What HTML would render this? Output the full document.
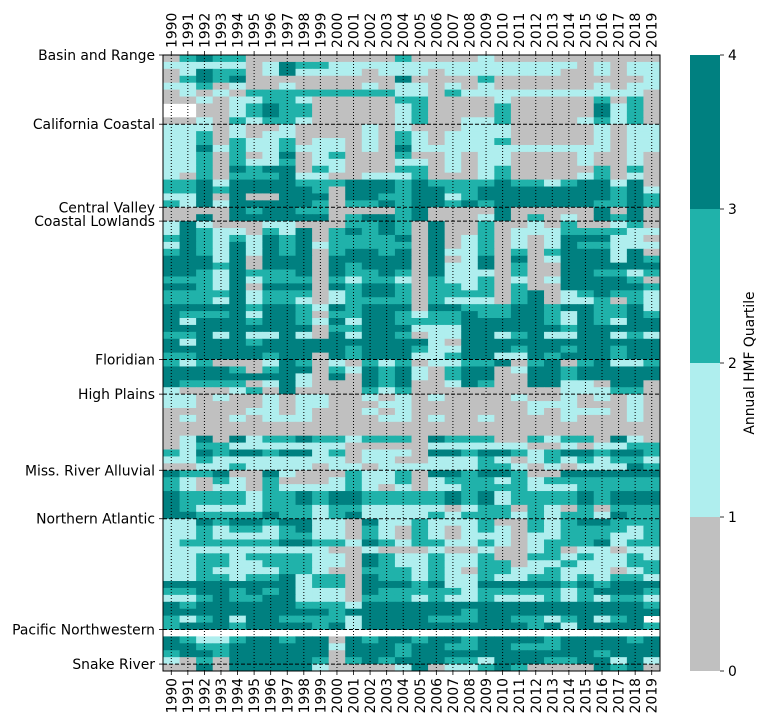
<!DOCTYPE html>
<html><head><meta charset="utf-8">
<style>
html,body{margin:0;padding:0;background:#fff;}
svg{display:block;font-family:"DejaVu Sans","Liberation Sans",sans-serif;}
</style></head>
<body>
<svg id="chart" width="768" height="726" viewBox="0 0 768 726" xmlns="http://www.w3.org/2000/svg"></svg>
<script>
const years = [1990,1991,1992,1993,1994,1995,1996,1997,1998,1999,2000,2001,2002,2003,2004,2005,2006,2007,2008,2009,2010,2011,2012,2013,2014,2015,2016,2017,2018,2019];
const regionLabels = ["Basin and Range","California Coastal","Central Valley","Coastal Lowlands","Floridian","High Plains","Miss. River Alluvial","Northern Atlantic","Pacific Northwestern","Snake River"];
const regionStartRows = [0,10,22,24,44,49,60,67,83,88];
const colorbarTicks = [0,1,2,3,4];
const N = null;
// quartile bin (0..3) per site-row, per year; null = no data
const rowsBasin = [
[0,2,3,2,2,0,0,0,0,0,0,0,0,0,2,0,0,0,0,1,0,0,0,0,0,0,0,0,0,0],
[1,1,1,1,1,0,1,3,2,2,1,1,1,1,1,1,1,1,1,1,1,1,1,1,1,0,1,0,1,1],
[0,1,3,2,2,0,1,3,1,1,1,1,0,1,1,1,0,1,1,1,1,1,1,1,0,0,1,0,1,1],
[0,2,3,2,3,0,0,0,0,0,0,0,0,0,3,0,0,0,0,2,0,0,0,0,0,0,0,0,0,1],
[1,1,2,0,1,0,0,1,0,0,0,0,1,0,1,1,0,1,0,1,0,0,0,0,0,0,1,0,1,1],
[0,1,0,1,0,2,2,2,2,2,2,2,2,2,1,1,0,2,1,1,1,1,1,1,1,1,1,1,1,0],
[0,0,1,0,1,1,2,2,1,0,0,0,0,0,2,2,0,0,0,0,1,0,0,0,0,0,2,0,2,0],
[N,N,0,0,1,2,3,2,2,0,0,0,0,0,1,2,0,0,0,0,2,0,0,0,0,0,3,1,2,0],
[N,N,0,0,1,2,3,2,2,0,0,0,0,0,1,2,0,0,0,0,2,0,0,0,0,0,3,1,2,0],
[0,0,1,0,2,1,2,2,1,0,0,0,0,0,1,2,0,0,1,1,2,0,0,0,0,1,2,1,2,0]];
const rowsCalifornia = [
[1,1,1,0,1,0,0,1,0,0,0,0,1,0,1,0,0,0,1,1,1,0,0,0,0,0,1,0,1,1],
[1,1,2,0,1,0,1,1,0,0,0,0,1,0,2,1,0,1,1,1,1,0,0,0,0,0,1,0,1,1],
[1,1,2,0,2,1,1,2,0,1,1,0,1,0,2,1,0,1,1,1,2,0,0,0,0,0,1,0,1,1],
[1,1,3,1,2,1,1,2,1,1,1,0,1,0,3,1,1,1,1,1,1,1,1,1,1,1,1,0,1,1],
[1,1,2,0,2,0,1,3,0,1,2,0,0,0,2,0,0,1,0,1,1,0,0,0,0,1,0,0,1,0],
[1,1,2,0,2,1,1,2,0,1,1,0,0,0,1,1,0,1,0,1,1,0,0,0,0,1,0,0,1,0],
[1,1,2,0,3,2,3,3,0,2,1,0,0,0,2,2,0,1,0,1,2,0,0,0,0,0,2,0,2,0],
[1,0,2,0,2,2,2,3,1,1,0,0,1,1,1,2,0,0,0,1,2,0,0,0,0,1,2,0,1,0],
[2,2,3,1,3,3,3,3,2,2,2,3,3,3,2,3,2,2,2,2,3,2,2,1,2,3,3,1,3,0],
[2,2,3,2,3,3,3,3,3,2,0,3,3,3,2,3,3,2,2,3,3,3,3,3,3,3,3,2,3,1],
[1,1,3,0,3,0,0,3,3,3,0,3,3,2,2,3,3,1,2,3,3,3,3,3,3,3,3,2,3,2],
[2,1,3,1,3,3,3,3,3,2,0,2,2,3,2,3,3,2,3,2,3,3,3,3,3,3,2,2,3,2]];
const rowsCentralValley = [
[0,0,0,0,3,2,3,3,2,2,0,0,0,0,2,3,0,0,0,0,3,0,0,0,0,0,3,0,3,0],
[0,0,3,0,3,3,3,3,3,3,0,2,3,3,2,3,0,0,0,1,3,0,2,0,1,0,3,2,3,0]];
const rowsCoastal = [
[1,3,1,0,0,0,1,1,0,0,0,2,2,3,2,0,3,0,0,2,0,0,1,0,2,0,0,1,2,0],
[1,3,2,1,1,0,2,1,3,0,2,3,2,3,2,0,3,0,0,2,0,1,1,1,2,2,2,2,1,1],
[2,3,2,1,2,1,3,2,3,0,2,2,2,2,3,0,3,0,1,2,0,1,0,1,3,3,3,1,1,0],
[1,3,2,1,3,1,3,2,3,1,2,2,2,2,2,0,3,0,1,2,0,1,0,1,3,2,2,1,1,1],
[2,3,2,1,3,1,3,2,3,0,2,3,3,2,3,0,3,1,1,2,0,2,0,2,3,3,3,1,3,0],
[3,3,3,1,3,0,3,3,3,0,3,3,3,3,3,0,3,0,1,3,0,3,0,1,3,3,3,1,3,2],
[3,3,3,2,3,0,3,3,3,0,3,2,3,3,3,0,3,1,1,3,0,2,0,0,3,3,3,3,3,3],
[3,3,2,1,3,2,2,2,3,0,3,2,2,3,2,0,3,1,1,1,0,2,0,0,3,3,2,2,1,2],
[2,2,2,1,3,1,2,2,2,0,2,1,2,2,1,0,2,1,1,2,0,1,0,1,3,3,3,3,2,0],
[3,3,2,1,3,0,3,3,3,0,3,2,3,3,2,0,2,2,1,2,0,2,0,0,3,3,3,3,3,2],
[2,2,2,2,3,1,2,2,2,0,1,2,3,3,2,0,2,2,2,2,0,2,3,0,1,2,3,2,2,1],
[2,2,2,1,3,1,2,2,1,0,1,2,2,2,2,0,2,1,1,1,0,2,3,0,1,1,2,0,2,1],
[3,3,3,3,3,2,3,3,2,1,3,2,3,3,3,0,3,3,2,2,2,3,3,2,3,3,2,2,3,1],
[3,2,2,2,3,1,3,3,2,0,2,2,3,3,2,1,2,2,3,2,2,3,3,2,1,3,2,2,3,2],
[3,1,3,3,3,2,3,3,2,1,3,1,3,3,2,2,2,2,3,3,3,3,3,2,1,3,2,1,3,3],
[3,3,3,3,3,3,3,3,3,0,2,2,3,3,3,1,1,1,3,3,3,3,3,3,2,3,3,3,3,3],
[2,2,3,1,3,1,1,3,1,0,3,1,3,3,2,0,1,1,3,3,1,2,3,1,1,3,3,1,2,1],
[3,1,3,3,3,2,3,3,3,3,3,3,3,3,3,3,1,0,3,3,3,3,3,3,3,3,3,3,3,3],
[3,3,3,3,3,3,3,3,3,3,3,2,3,3,3,2,1,1,3,3,3,2,3,3,2,3,3,2,3,3],
[2,2,3,3,3,3,2,3,3,0,3,2,3,3,3,1,1,2,3,3,1,1,3,2,3,3,3,2,3,3]];
const rowsFloridian = [
[2,1,2,0,0,0,1,3,2,0,1,0,2,1,2,0,1,1,2,2,3,0,2,3,0,2,3,1,1,2],
[3,3,3,3,2,0,2,3,3,0,2,1,3,2,3,1,0,2,3,3,0,1,3,3,2,3,3,3,3,3],
[3,3,3,3,3,3,3,3,1,0,3,0,3,2,3,1,0,2,3,3,0,0,3,3,2,3,3,3,3,3],
[3,2,2,2,2,0,1,3,1,0,0,0,3,2,3,0,0,1,3,2,0,0,3,3,1,1,0,3,3,0],
[1,0,0,0,1,2,0,3,0,0,0,0,2,1,2,0,0,0,0,0,0,0,0,0,1,1,1,2,2,0]];
const rowsHighPlains = [
[1,1,0,1,0,0,1,0,1,1,0,0,1,0,1,0,1,0,0,0,0,1,0,0,1,0,1,0,1,0],
[1,1,0,0,0,0,1,0,1,1,0,0,0,1,1,0,0,0,0,0,0,0,1,1,1,0,0,0,1,0],
[0,0,0,0,0,1,1,0,1,0,0,0,1,0,1,0,0,0,0,0,0,0,1,0,1,1,1,0,1,0],
[0,1,0,0,1,0,1,1,1,0,0,0,0,1,1,0,1,0,0,1,0,0,0,0,1,0,0,0,1,0],
[0,0,0,0,0,0,0,0,0,0,0,0,0,0,0,0,0,0,0,0,0,0,0,0,0,0,0,0,0,0],
[0,0,0,0,0,0,0,0,0,0,0,0,0,0,0,0,0,0,0,0,0,0,0,0,0,0,0,0,0,0],
[0,1,3,0,3,1,2,2,3,2,2,1,2,2,2,0,3,2,2,2,0,0,2,1,2,2,0,3,1,0],
[0,1,2,2,1,1,1,1,1,1,1,0,0,0,0,0,1,1,1,1,1,1,0,0,1,0,1,1,2,2],
[2,1,3,2,3,3,2,3,3,1,2,0,1,1,1,0,3,3,2,3,3,2,1,2,3,3,2,3,3,2],
[1,1,2,1,1,1,1,1,1,1,1,0,1,1,0,0,1,1,1,2,1,0,1,2,1,2,1,2,2,1],
[0,0,1,1,2,1,1,1,1,0,1,1,0,1,1,1,1,1,1,2,2,1,0,1,0,1,1,1,3,2]];
const rowsMissRiver = [
[3,2,2,3,0,0,3,1,0,0,0,2,1,1,2,0,3,3,2,3,3,2,0,0,3,3,3,3,3,3],
[2,1,0,2,1,0,2,0,0,0,1,2,1,1,2,0,1,2,2,2,1,2,1,2,2,2,2,2,2,2],
[2,1,0,1,1,0,2,1,1,1,1,2,1,0,1,0,1,1,2,2,2,2,1,1,1,2,2,2,2,2],
[3,2,2,2,2,1,2,2,3,2,3,3,2,2,2,2,2,3,2,3,1,2,2,2,2,3,2,3,3,3],
[3,2,2,2,2,1,2,2,3,2,3,3,2,2,2,2,2,3,2,3,1,2,2,2,2,3,2,3,3,3],
[3,2,1,1,1,1,2,2,2,1,2,2,1,1,1,1,1,0,1,2,2,0,2,1,0,2,0,2,2,2],
[3,3,2,2,2,2,3,2,2,1,2,3,1,1,1,1,2,1,2,2,2,1,2,1,2,2,1,3,2,2]];
const rowsNorthernAtlantic = [
[1,1,3,2,3,3,2,3,3,1,1,0,3,1,1,2,1,1,1,2,0,0,2,1,2,3,3,2,2,2],
[1,1,2,1,2,2,1,2,3,1,1,0,2,1,0,2,1,0,1,2,1,0,2,1,2,2,2,2,1,2],
[1,1,2,1,1,1,1,2,2,1,1,0,2,1,0,2,1,0,1,1,1,0,1,1,2,2,2,1,1,2],
[1,2,2,2,2,2,2,3,3,2,2,1,3,2,1,2,2,1,1,2,1,0,1,2,2,2,3,1,2,2],
[1,1,1,1,1,1,1,1,1,1,0,0,1,0,0,0,1,0,0,1,0,0,1,2,0,1,1,0,1,1],
[1,1,2,2,1,2,2,2,2,1,1,0,3,2,1,1,2,1,1,2,0,0,2,2,1,2,1,1,2,1],
[1,1,2,2,1,1,2,2,2,1,1,0,3,2,1,1,2,1,1,2,2,0,1,1,2,1,1,1,2,2],
[1,1,2,1,1,1,1,2,2,1,0,0,2,2,2,1,2,1,0,2,2,1,1,2,1,1,1,0,1,2],
[1,1,2,2,1,2,2,3,1,2,2,0,3,2,2,1,2,1,1,2,1,1,2,2,1,2,1,2,2,1],
[3,3,3,3,3,3,3,3,1,2,2,0,3,3,3,2,3,1,1,3,3,3,3,3,2,3,2,3,3,3],
[2,2,3,3,2,3,2,3,1,1,1,0,3,2,2,2,2,2,1,2,2,2,2,2,1,2,3,3,3,2],
[1,1,2,3,2,2,3,3,1,1,1,0,2,2,2,1,2,1,1,2,1,1,1,2,1,2,1,2,2,1],
[3,2,3,3,3,3,3,3,2,2,2,1,3,3,3,3,3,3,3,3,3,3,3,3,3,3,3,3,3,2],
[3,3,3,3,3,3,3,3,3,3,2,3,3,3,3,3,3,3,2,3,3,3,3,3,3,3,3,3,3,3],
[2,1,2,3,1,3,3,2,2,2,2,1,3,3,3,3,2,2,2,3,3,2,2,1,2,3,1,2,3,N],
[2,3,3,3,2,3,3,3,3,2,3,1,3,3,3,3,3,3,3,3,3,3,2,3,1,3,3,3,3,2]];
const rowsPacificNW = [
[N,N,N,N,N,N,N,N,N,N,N,N,N,N,N,N,N,N,N,N,N,N,N,N,N,N,N,N,N,N],
[3,2,1,1,2,3,3,2,3,3,0,3,2,3,3,2,3,3,2,3,3,3,3,2,3,3,3,3,2,3],
[3,3,2,2,3,3,3,3,3,3,1,3,3,3,2,3,3,2,2,3,3,2,2,2,3,3,3,3,3,3],
[2,3,3,2,3,3,3,3,3,3,0,3,3,3,2,3,3,3,3,3,3,3,3,3,3,3,2,3,3,3],
[1,0,2,0,3,3,3,3,3,2,0,2,3,2,3,3,3,2,2,1,3,3,3,2,2,3,3,1,3,1]];
const rowsSnake = [
[0,0,3,0,3,3,3,3,3,1,0,0,0,0,1,3,0,1,1,2,3,2,0,0,0,0,3,2,3,0]];

const grid = [].concat(rowsBasin,rowsCalifornia,rowsCentralValley,rowsCoastal,rowsFloridian,rowsHighPlains,rowsMissRiver,rowsNorthernAtlantic,rowsPacificNW,rowsSnake);

const NS = "http://www.w3.org/2000/svg";
const svg = document.getElementById('chart');
const X0=163, X1=660, Y0=55, Y1=671;
const FS = 13.9;
const nCols = years.length, nRows = grid.length;
const cw = (X1-X0)/nCols, rh = (Y1-Y0)/nRows;
const colX = i => X0 + i*cw;
const rowY = r => Y0 + r*rh;
const palette = ["#c0c0c0","#afeeee","#20b2aa","#008080"];
const CB0=690, CB1=720;
const cbY = v => Y1 - (v/4)*(Y1-Y0);

function mk(tag, attrs){const e=document.createElementNS(NS,tag);for(const k in attrs)e.setAttribute(k,attrs[k]);svg.appendChild(e);return e;}

for(let r=0;r<nRows;r++){
  for(let c=0;c<nCols;c++){
    const v=grid[r][c];
    if(v===null||v===undefined) continue;
    const e=mk('rect',{x:colX(c).toFixed(2),y:rowY(r).toFixed(2),width:(cw+0.4).toFixed(2),height:(rh+0.4).toFixed(2),fill:palette[Math.min(3,Math.floor(v))]});
    
    
  }
}
for(let c=0;c<nCols;c++){
  const x=colX(c)+cw/2;
  const e=mk('line',{x1:x,y1:Y0,x2:x,y2:Y1,stroke:"#000","stroke-width":1,"stroke-dasharray":"1,2"});
  
  
  mk('line',{x1:x,y1:Y1,x2:x,y2:Y1+4,stroke:"#000","stroke-width":0.8});
  mk('line',{x1:x,y1:Y0,x2:x,y2:Y0-4,stroke:"#000","stroke-width":0.8});
  const tb=mk('text',{x:0,y:0,"font-size":FS,"text-anchor":"end",transform:`translate(${x+5},${Y1+7}) rotate(-90)`});
  tb.textContent=years[c];
  
  
  const tt=mk('text',{x:0,y:0,"font-size":FS,"text-anchor":"start",transform:`translate(${x+5},${Y0-7}) rotate(-90)`});
  tt.textContent=years[c];
  
  
}
for(let g=0;g<regionLabels.length;g++){
  const y=rowY(regionStartRows[g]);
  if(g>0){
    const e=mk('line',{x1:X0,y1:y,x2:X1,y2:y,stroke:"#000","stroke-width":1,"stroke-dasharray":"4,2"});
    
    
  }
  mk('line',{x1:X0-4,y1:y,x2:X0,y2:y,stroke:"#000","stroke-width":0.8});
  const t=mk('text',{x:X0-8,y:y+5,"font-size":FS,"text-anchor":"end"});
  t.textContent=regionLabels[g];
  
  
}
const frame=mk('rect',{x:X0,y:Y0,width:X1-X0,height:Y1-Y0,fill:"none",stroke:"#000","stroke-width":1});



for(let i=0;i<4;i++){
  const e=mk('rect',{x:CB0,y:cbY(i+1),width:CB1-CB0,height:cbY(i)-cbY(i+1),fill:palette[i]});
  
  
}
colorbarTicks.forEach(v=>{
  const y=cbY(v);
  mk('line',{x1:CB1,y1:y,x2:CB1+4,y2:y,stroke:"#000","stroke-width":0.8});
  const t=mk('text',{x:CB1+8,y:y+5,"font-size":FS});
  t.textContent=v;
  
  
});
const cbt=mk('text',{x:0,y:0,"font-size":FS,"text-anchor":"middle",transform:`translate(754,${(Y0+Y1)/2}) rotate(-90)`});
cbt.textContent="Annual HMF Quartile";


</script>
</body></html>
